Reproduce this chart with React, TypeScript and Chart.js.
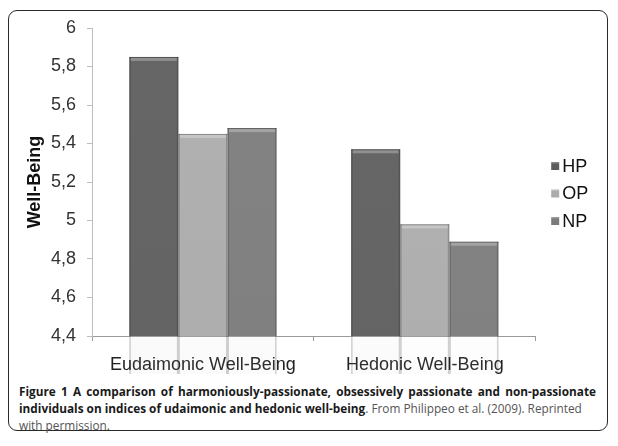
import React, { useEffect, useRef } from "react";
import { Chart, registerables } from "chart.js";

Chart.register(...registerables);

const categories = ["Eudaimonic Well-Being", "Hedonic Well-Being"];
const seriesNames = ["HP", "OP", "NP"];
const hpValues = [5.85, 5.37];
const opValues = [5.45, 4.98];
const npValues = [5.48, 4.89];
const seriesColors = ["#5c5c5c", "#ababab", "#7a7a7a"];
const yMin = 4.4;
const yMax = 6;
const yStep = 0.2;
const yTitle = "Well-Being";

const CANVAS_W = 596;
const CANVAS_H = 362;
const FONT = "'Liberation Sans', Arial, sans-serif";

const bevelPlugin = {
  id: "bevel",
  afterDatasetsDraw(chart: any) {
    const ctx = chart.ctx;
    chart.data.datasets.forEach((_ds: any, i: number) => {
      const meta = chart.getDatasetMeta(i);
      meta.data.forEach((bar: any) => {
        const { x, y, base, width } = bar.getProps(["x", "y", "base", "width"], true);
        const left = x - width / 2;
        const right = x + width / 2;
        const top = Math.min(y, base);
        const bottom = Math.max(y, base);
        ctx.save();
        const g = ctx.createLinearGradient(0, top, 0, bottom);
        g.addColorStop(0, "rgba(255,255,255,0.06)");
        g.addColorStop(1, "rgba(0,0,0,0.13)");
        ctx.fillStyle = g;
        ctx.fillRect(left, top, width, bottom - top);
        ctx.fillStyle = "rgba(0,0,0,0.25)";
        ctx.fillRect(left, top, width, 1);
        ctx.fillStyle = "rgba(255,255,255,0.28)";
        ctx.fillRect(left + 1.5, top + 1, width - 3, 3);
        ctx.fillStyle = "rgba(0,0,0,0.18)";
        ctx.fillRect(left, top, 1.5, bottom - top);
        ctx.fillRect(right - 1.5, top, 1.5, bottom - top);
        ctx.restore();
      });
    });
  },
};

const legendPlugin = {
  id: "sideLegend",
  afterDraw(chart: any) {
    const ctx = chart.ctx;
    const area = chart.chartArea;
    const x0 = area.right + 15.5;
    const cy = chart.height / 2 + 0.5;
    ctx.save();
    chart.data.datasets.forEach((ds: any, i: number) => {
      const y = cy + (i - 1) * 27.5;
      ctx.fillStyle = ds.backgroundColor;
      ctx.fillRect(x0, y - 4, 8, 8);
      ctx.fillStyle = "rgba(255,255,255,0.25)";
      ctx.fillRect(x0, y - 4, 8, 1.5);
      ctx.fillStyle = "#111";
      ctx.font = `18px ${FONT}`;
      ctx.textBaseline = "middle";
      ctx.textAlign = "left";
      ctx.fillText(ds.label, x0 + 11, y + 1);
    });
    ctx.restore();
  },
};

function fmt(v: number) {
  const s = Number(v).toFixed(1);
  const t = s.endsWith(".0") ? s.slice(0, -2) : s;
  return t.replace(".", ",");
}

function ChartBox() {
  const ref = useRef<HTMLCanvasElement>(null);
  useEffect(() => {
    if (!ref.current) return;
    Chart.defaults.font.family = FONT;
    const values = [hpValues, opValues, npValues];
    const chart = new Chart(ref.current, {
      type: "bar",
      data: {
        labels: categories,
        datasets: seriesNames.map((name, i) => ({
          label: name,
          data: values[i],
          backgroundColor: seriesColors[i],
          borderWidth: 0,
          barPercentage: 1,
          categoryPercentage: 0.664,
        })),
      },
      options: {
        responsive: false,
        animation: false,
        layout: { padding: { left: 0, top: 16, right: 70.3, bottom: 0 } },
        plugins: {
          tooltip: { enabled: false },
          legend: { display: false },
        },
        scales: {
          x: {
            grid: {
              display: true,
              drawOnChartArea: false,
              drawTicks: true,
              tickLength: 5,
              color: "#9a9a9a",
              offset: true,
            },
            border: { display: true, color: "#9a9a9a", width: 1 },
            ticks: { color: "#222", padding: 13, font: { size: 18 } },
            afterFit: (scale: any) => {
              scale.height = 38;
              scale.paddingLeft = 0;
              scale.paddingRight = 0;
            },
          },
          y: {
            min: yMin,
            max: yMax,
            grid: {
              display: true,
              drawOnChartArea: false,
              drawTicks: true,
              tickLength: 5,
              color: "#bdbdbd",
            },
            border: { display: true, color: "#bdbdbd", width: 1 },
            ticks: {
              stepSize: yStep,
              color: "#333",
              padding: 11,
              font: { size: 18 },
              callback: (v: any) => fmt(Number(v)),
            },
            title: {
              display: true,
              text: yTitle,
              color: "#111",
              padding: { top: 14, bottom: 0 },
              font: { size: 18, weight: "bold" },
            },
            afterFit: (scale: any) => {
              scale.width = 82;
              scale.paddingTop = 0;
              scale.paddingBottom = 0;
            },
          },
        },
      },
      plugins: [bevelPlugin, legendPlugin],
    });
    return () => chart.destroy();
  }, []);
  return (
    <canvas
      ref={ref}
      width={CANVAS_W}
      height={CANVAS_H}
      style={{ position: "absolute", left: 2, top: 4, width: CANVAS_W, height: CANVAS_H }}
    />
  );
}

export default function App() {
  return (
    <div style={{ position: "relative", width: 602, height: 430 }}>
      <div
        style={{
          position: "absolute",
          left: 0,
          top: 2,
          width: 600,
          height: 421,
          border: "1.5px solid #2a2a2a",
          borderRadius: 9,
          boxSizing: "border-box",
          background: "#fff",
        }}
      />
      <ChartBox />
      <div
        style={{
          position: "absolute",
          left: 11,
          top: 374.5,
          width: 577,
          fontFamily: "'Open Sans', sans-serif",
          fontSize: 11.8,
          lineHeight: "17px",
          color: "#555",
        }}
      >
        <div style={{ textAlign: "justify", textAlignLast: "justify", fontWeight: "bold", color: "#1a1a1a" }}>
          Figure 1 A comparison of harmoniously-passionate, obsessively passionate and non-passionate
        </div>
        <div style={{ whiteSpace: "nowrap" }}>
          <b style={{ color: "#1a1a1a" }}>individuals on indices of udaimonic and hedonic well-being</b>
          . From Philippeo et al. (2009). Reprinted
        </div>
        <div style={{ whiteSpace: "nowrap" }}>with permission.</div>
      </div>
    </div>
  );
}
